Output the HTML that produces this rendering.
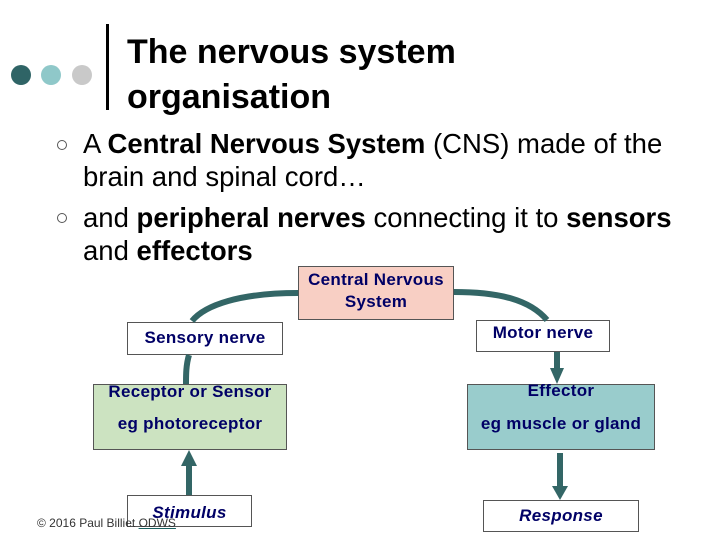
<!DOCTYPE html>
<html><head><style>
body{margin:0;width:720px;height:540px;background:#fff;position:relative;overflow:hidden;font-family:"Liberation Sans",sans-serif}
.a{position:absolute}
.t{position:absolute;left:127px;top:30px;font-size:34px;font-weight:bold;line-height:45px;color:#000}
.b{position:absolute;font-size:27.5px;line-height:33px;color:#000;white-space:nowrap}
.box{position:absolute;box-sizing:border-box;border:1px solid #555;color:#000066;font-weight:bold;font-size:17px;letter-spacing:0.3px;text-align:center;white-space:nowrap}
</style></head><body>
<div class="a" style="left:11px;top:65px;width:20px;height:20px;border-radius:50%;background:#2f6466"></div>
<div class="a" style="left:41px;top:65px;width:20px;height:20px;border-radius:50%;background:#8fc8c9"></div>
<div class="a" style="left:72px;top:65px;width:20px;height:20px;border-radius:50%;background:#c9c9c9"></div>
<div class="a" style="left:106px;top:24px;width:3px;height:86px;background:#000"></div>
<div class="t">The nervous system<br>organisation</div>
<div class="a" style="left:57px;top:140px;width:8px;height:8px;border:1.5px solid #555;border-radius:50%"></div>
<div class="a" style="left:57px;top:213px;width:8px;height:8px;border:1.5px solid #555;border-radius:50%"></div>
<div class="b" style="left:83px;top:127px">A <b>Central Nervous System</b> (CNS) made of the<br>brain and spinal cord…</div>
<div class="b" style="left:83px;top:201px">and <b>peripheral nerves</b> connecting it to <b>sensors</b><br>and <b>effectors</b></div>
<div class="box" style="left:298px;top:266px;width:156px;height:54px;background:#f8cfc4;line-height:22px;padding-top:2px">Central Nervous<br>System</div>
<div class="box" style="left:127px;top:322px;width:156px;height:33px;background:#fff;line-height:29px">Sensory nerve</div>
<div class="box" style="left:476px;top:320px;width:134px;height:32px;background:#fff;line-height:24px">Motor nerve</div>
<div class="box" style="left:93px;top:384px;width:194px;height:66px;background:#cce3c1;line-height:32px"><div style="margin-top:-9px">Receptor or Sensor<br>eg photoreceptor</div></div>
<div class="box" style="left:467px;top:384px;width:188px;height:66px;background:#99cccc;line-height:33px"><div style="margin-top:-11px">Effector<br>eg muscle or gland</div></div>
<div class="box" style="left:127px;top:495px;width:125px;height:32px;background:#fff;line-height:33px;font-style:italic">Stimulus</div>
<div class="box" style="left:483px;top:500px;width:156px;height:32px;background:#fff;line-height:30px;font-style:italic">Response</div>
<svg class="a" style="left:0;top:0" width="720" height="540">
<g fill="none" stroke="#336666" stroke-width="6">
<path d="M298,293 C240,293 205,305 192,321"/>
<path d="M189,355 C186,365 186,375 186,384"/>
<path d="M454,292 C500,292 530,300 547,320"/>
<path d="M557,352 L557,372"/>
<path d="M189,495 L189,464"/>
<path d="M560,453 L560,488"/>
</g>
<g fill="#336666">
<polygon points="550,368 564,368 557,384"/>
<polygon points="181,466 197,466 189,450"/>
<polygon points="552,486 568,486 560,500"/>
</g>
</svg>
<div class="a" style="left:37px;top:516px;font-size:12px;color:#333">© 2016 Paul Billiet <span style="text-decoration:underline;text-decoration-color:#1a6060">ODWS</span></div>
</body></html>
